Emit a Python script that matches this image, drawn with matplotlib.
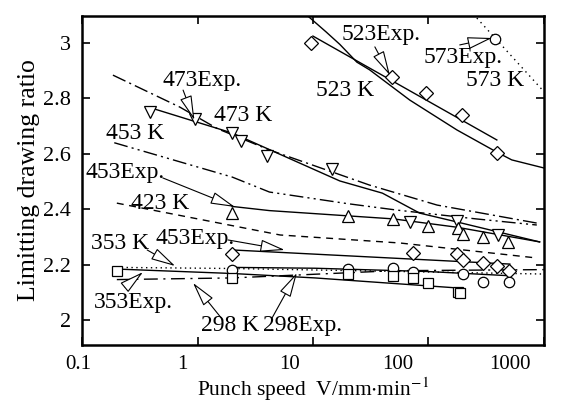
import matplotlib
matplotlib.use("Agg")
import matplotlib.pyplot as plt
from matplotlib.ticker import FixedLocator, NullLocator, FixedFormatter
from matplotlib.transforms import ScaledTranslation

# ---------------- data ----------------
# Model (simulation) curves
k573_x = [263, 1000]
k573_y = [3.09, 2.825]
k523_x = [9.06, 13, 17.1, 24, 31, 69, 177, 392, 528, 1000]
k523_y = [3.097, 3.04, 2.995, 2.931, 2.903, 2.794, 2.686, 2.606, 2.578, 2.549]
k473_x = [0.185, 0.7, 1.5, 4.2, 31, 119, 870]
k473_y = [2.884, 2.769, 2.69, 2.614, 2.487, 2.415, 2.35]
k453_x = [0.19, 2.0, 4.2, 20, 53, 260, 870]
k453_y = [2.64, 2.516, 2.462, 2.42, 2.397, 2.365, 2.343]
k423_x = [0.2, 5.2, 57, 870]
k423_y = [2.422, 2.307, 2.278, 2.224]
k353_x = [0.2, 2.0, 1000]
k353_y = [2.19, 2.186, 2.166]
k298_x = [0.2, 2.0, 10, 50, 1000]
k298_y = [2.146, 2.152, 2.165, 2.178, 2.182]

# Experimental points and fitted lines
e573_x = [377]
e573_y = [3.014]
e523_x = [9.6, 48, 95, 195, 390]
e523_y = [3.0, 2.877, 2.82, 2.74, 2.603]
e523_line_x = [10.0, 392]
e523_line_y = [3.025, 2.65]
e473_x = [0.388, 0.95, 1.99, 2.38, 4.0, 14.6, 69, 177, 400]
e473_y = [2.751, 2.726, 2.675, 2.646, 2.592, 2.545, 2.354, 2.357, 2.307]
e473_line_x = [0.4, 2.0, 17.1, 40, 84, 177, 920]
e473_line_y = [2.765, 2.675, 2.502, 2.458, 2.386, 2.354, 2.282]
e453a_x = [1.99, 20.1, 49, 99, 180, 199, 296, 488]
e453a_y = [2.386, 2.375, 2.365, 2.339, 2.332, 2.31, 2.30, 2.282]
e453a_line_x = [2.0, 4.2, 50, 177, 920]
e453a_line_y = [2.41, 2.395, 2.365, 2.335, 2.282]
e453b_x = [1.99, 73, 177, 199, 296, 392, 498]
e453b_y = [2.238, 2.242, 2.238, 2.217, 2.206, 2.195, 2.177]
e453b_line_x = [2.0, 508]
e453b_line_y = [2.253, 2.202]
e353_x = [0.2, 1.99, 20.1, 49, 73, 99, 180, 188]
e353_y = [2.177, 2.152, 2.166, 2.159, 2.152, 2.134, 2.101, 2.097]
e353_line_x = [0.2, 2.0, 10.4, 190]
e353_line_y = [2.184, 2.168, 2.152, 2.115]
e298_x = [1.99, 20.1, 49, 73, 199, 296, 500]
e298_y = [2.181, 2.184, 2.188, 2.173, 2.166, 2.137, 2.137]
e298_line_x = [2.0, 10.4, 100, 500]
e298_line_y = [2.19, 2.187, 2.175, 2.16]

x_ticks = [0.1, 1, 10, 100, 1000]
x_tick_labels = ["0.1", "1", "10", "100", "1000"]
y_ticks = [2.0, 2.2, 2.4, 2.6, 2.8, 3.0]
y_tick_labels = ["2", "2.2", "2.4", "2.6", "2.8", "3"]

# ---------------- figure ----------------
plt.rcParams['font.family'] = ['Liberation Serif', 'DejaVu Serif']
plt.rcParams['mathtext.fontset'] = 'stix'
fig = plt.figure(figsize=(5.70, 4.03), dpi=100)
ax = fig.add_axes([0.144, 0.144, 0.810, 0.816])
ax.set_xscale('log')
ax.set_xlim(0.1, 1000)
ax.set_ylim(1.91, 3.097)

lw = 1.0
ax.plot(k573_x, k573_y, color='k', lw=lw, dashes=(1, 3))
ax.plot(k523_x, k523_y, color='k', lw=lw)
ax.plot(k473_x, k473_y, color='k', lw=lw, dashes=(10, 3, 1.5, 3))
ax.plot(k453_x, k453_y, color='k', lw=lw, dashes=(10, 3, 1.5, 3, 1.5, 3))
ax.plot(k423_x, k423_y, color='k', lw=lw, dashes=(5, 4))
ax.plot(k353_x, k353_y, color='k', lw=lw, dashes=(1, 2.5))
ax.plot(k298_x, k298_y, color='k', lw=lw, dashes=(10, 4, 1.5, 4))

for lx, ly in [(e523_line_x, e523_line_y), (e473_line_x, e473_line_y),
               (e453a_line_x, e453a_line_y), (e453b_line_x, e453b_line_y),
               (e353_line_x, e353_line_y), (e298_line_x, e298_line_y)]:
    ax.plot(lx, ly, color='k', lw=lw)

mk = dict(ls='none', mfc='white', mec='k', mew=0.9, ms=7.5)
ax.plot(e573_x, e573_y, marker='o', **mk)
ax.plot(e523_x, e523_y, marker='D', **{**mk, 'ms': 6.8})
ax.plot(e473_x, e473_y, marker='v', **{**mk, 'ms': 8})
ax.plot(e453a_x, e453a_y, marker='^', **{**mk, 'ms': 8})
ax.plot(e453b_x, e453b_y, marker='D', **{**mk, 'ms': 6.8})
ax.plot(e298_x, e298_y, marker='o', **mk)
ax.plot(e353_x, e353_y, marker='s', **{**mk, 'ms': 7})

# ---------------- labels and arrows ----------------
fs = 17
texts = [
    ("473Exp.", 1.09, 2.866), ("473 K", 2.48, 2.74), ("453 K", 0.288, 2.675),
    ("453Exp.", 0.235, 2.534), ("423 K", 0.473, 2.422), ("353 K", 0.213, 2.278),
    ("453Exp.", 0.95, 2.296), ("353Exp.", 0.277, 2.065), ("298 K", 1.91, 1.982),
    ("298Exp.", 8.2, 1.982), ("523Exp.", 38.8, 3.029), ("523 K", 18.9, 2.83),
    ("573Exp.", 199, 2.946), ("573 K", 377, 2.866),
]
for s, tx, ty in texts:
    ax.text(tx, ty, s, fontsize=fs, ha='center', va='center')

arrows = [
    ((0.75, 2.83), (0.94, 2.722)),
    ((0.50, 2.513), (2.11, 2.408)),
    ((1.84, 2.289), (5.7, 2.253)),
    ((0.366, 2.253), (0.64, 2.195)),
    ((0.235, 2.119), (0.337, 2.173)),
    ((1.66, 2.0), (0.914, 2.134)),
    ((4.42, 2.007), (7.27, 2.17)),
    ((34.4, 2.986), (46.4, 2.884)),
    ((187, 2.993), (355, 3.018)),
]
for tail, head in arrows:
    ax.annotate('', xy=head, xytext=tail,
                arrowprops=dict(arrowstyle='-|>,head_length=1.4,head_width=0.35',
                                fc='white', ec='k', lw=0.8, mutation_scale=11,
                                shrinkA=0, shrinkB=0))

# ---------------- axes styling ----------------
ax.xaxis.set_major_locator(FixedLocator(x_ticks))
ax.xaxis.set_major_formatter(FixedFormatter(x_tick_labels))
ax.xaxis.set_minor_locator(NullLocator())
ax.yaxis.set_major_locator(FixedLocator(y_ticks))
ax.yaxis.set_major_formatter(FixedFormatter(y_tick_labels))
ax.tick_params(direction='in', top=True, right=True, length=6, width=1.2,
               labelsize=16, pad=8)
ax.tick_params(axis='x', labelsize=15, pad=7)
for sp in ax.spines.values():
    sp.set_linewidth(1.8)

# the scanned original prints the x tick labels slightly left of their ticks
x_label_shift_px = [-4, -15, -23, -31, -34]
for lab, dx in zip(ax.get_xticklabels(), x_label_shift_px):
    lab.set_transform(lab.get_transform() +
                      ScaledTranslation(dx / 100, 0, fig.dpi_scale_trans))

ax.set_xlabel("Punch speed  V/mm$\\cdot$min$^{-1}$", fontsize=15.5, labelpad=1)
ax.set_ylabel("Limitting drawing ratio", fontsize=18.5, labelpad=2)

fig.savefig("out.png", dpi=100)
